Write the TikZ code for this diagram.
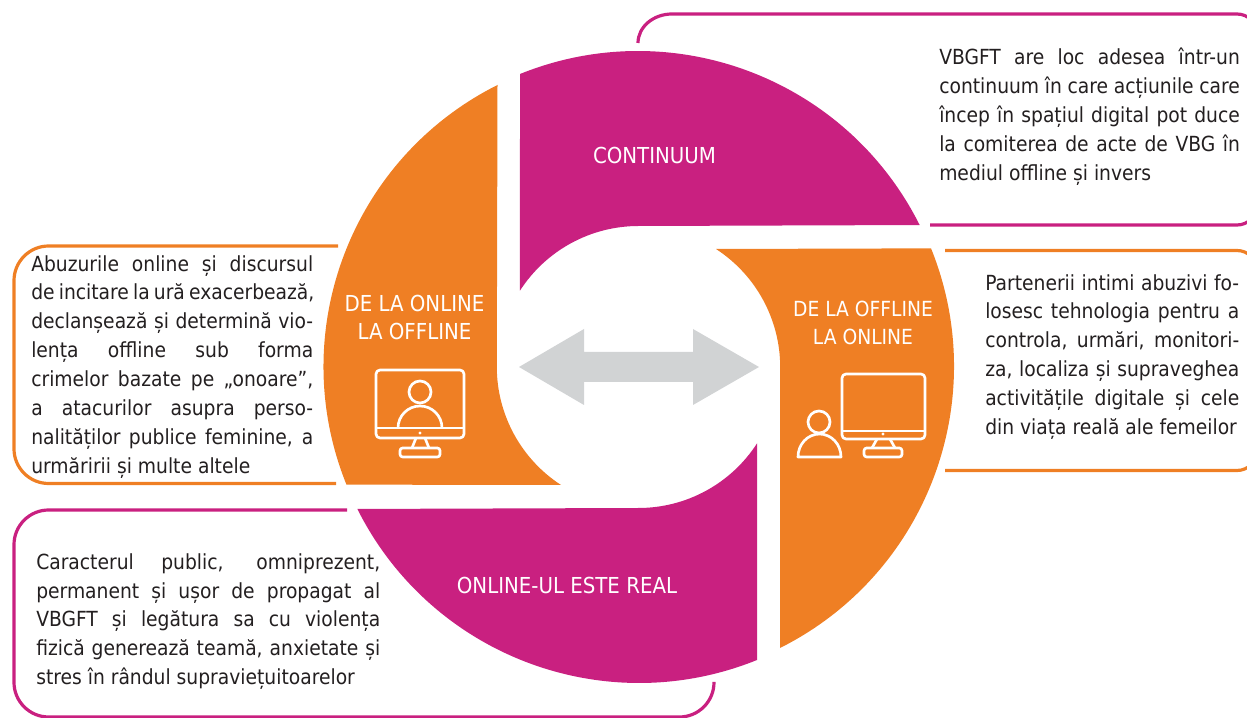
\documentclass[tikz,border=0pt]{standalone}
\usepackage{fontspec}
\setmainfont{DejaVu Sans Condensed}
\definecolor{magentaseg}{HTML}{C92080}
\definecolor{orangeseg}{HTML}{EF7F24}
\definecolor{arrowgrey}{HTML}{D1D3D4}
\definecolor{bodytext}{HTML}{231F20}
\hbadness=10000
\hfuzz=5pt

\begin{document}
\begin{tikzpicture}[x=0.75pt, y=0.75pt,
    segment/.style = {draw=none},
    seglabel/.style = {text=white, align=center, inner sep=0, font=\fontsize{16.5pt}{21pt}\selectfont},
    callout/.style = {line width=2.4pt, rounded corners=26pt},
    bodynode/.style = {text=bodytext, inner sep=0, anchor=north west, align=justify, font=\fontsize{15.6pt}{21.7pt}\selectfont},
    icon/.style = {draw=white, line width=2pt, line join=round}]
  \useasboundingbox (0, 0) rectangle (1247, 718);

  % Callouts.
  \draw [callout, magentaseg, sharp corners] (638, 675) arc [start angle=180, end angle=90, x radius=34, y radius=29]
        -- (1000, 704) [rounded corners=15pt] -- (1257, 704) -- (1257, 493) -- (930, 493);
  \draw [callout, orangeseg, rounded corners=15pt] (945, 467.5) -- (1257, 467.5) -- (1257, 247.5) -- (945, 247.5);
  \draw [callout, orangeseg] (338, 472) -- (14, 472) -- (14, 234.5) -- (336, 234.5);
  \draw [callout, magentaseg] (347, 208) -- (14, 208) -- (14, 1) -- (714, 1) -- (714, 36);

  % Ring.
  \fill [segment, magentaseg] (520, 644) arc [start angle=112, end angle=26.6, radius=315]
        -- (638.5, 492) arc [start angle=90, end angle=147.2, radius=141] -- cycle;
  \fill [segment, orangeseg] (497.5, 633) arc [start angle=116.6, end angle=202, radius=315]
        -- (561, 233) arc [start angle=237, end angle=180, radius=141] -- cycle;
  \fill [segment, magentaseg] (757, 58) arc [start angle=292, end angle=206.6, radius=315]
        -- (638.5, 210) arc [start angle=270, end angle=327.2, radius=141] -- cycle;
  \fill [segment, orangeseg] (780, 70) arc [start angle=296.6, end angle=382, radius=315]
        -- (716, 469) arc [start angle=57, end angle=0, radius=141] -- cycle;

  % Double arrow.
  \fill [arrowgrey] (519, 351) -- (584, 389) -- (584, 366) -- (693, 366) -- (693, 389) -- (759, 351)
        -- (693, 313) -- (693, 336) -- (584, 336) -- (584, 313) -- cycle;

  % Segment labels.
  \node at (654.5, 563) [seglabel, name=Continuum] {CONTINUUM};
  \node at (414.5, 401) [seglabel, name=OnlineOffline] {DE LA ONLINE\\LA OFFLINE};
  \node at (863, 395) [seglabel, font=\fontsize{15.6pt}{21pt}\selectfont, name=OfflineOnline] {DE LA OFFLINE\\LA ONLINE};
  \node at (567, 133) [seglabel, name=OnlineReal] {ONLINE-UL ESTE REAL};

  % Callout texts.
  \node at (939, 670) [bodynode, text width=225.5pt, name=ContinuumText]
    {VBGFT are loc adesea într-un\linebreak continuum în care acțiunile care\linebreak încep în spațiul digital pot duce\linebreak la comiterea de acte de VBG în\linebreak mediul offline și invers};
  \node at (985, 444) [bodynode, text width=190.5pt, name=OfflineOnlineText]
    {Partenerii intimi abuzivi fo-\linebreak losesc tehnologia pentru a\linebreak controla, urmări, monitori-\linebreak za, localiza și supraveghea\linebreak activitățile digitale și cele\linebreak din viața reală ale femeilor};
  \node at (31, 463) [bodynode, text width=211.5pt, name=OnlineOfflineText]
    {Abuzurile online și discursul\linebreak \makebox[\linewidth][s]{\spaceskip=.2em plus .2em de incitare la ură exacerbează,}\linebreak declanșează și determină vio-\linebreak lența offline sub forma\linebreak crimelor bazate pe „onoare”,\linebreak a atacurilor asupra perso-\linebreak nalităților publice feminine, a\linebreak urmăririi și multe altele};
  \node at (36, 165) [bodynode, text width=258pt, name=OnlineRealText]
    {Caracterul public, omniprezent,\linebreak permanent și ușor de propagat al\linebreak VBGFT și legătura sa cu violența\linebreak fizică generează teamă, anxietate și\linebreak stres în rândul supraviețuitoarelor};

  % Monitor with person on screen.
  \draw [icon, rounded corners=3pt] (376, 348) rectangle (464, 280);
  \draw [icon] (376, 290) -- (464, 290);
  \fill [white] (420, 285) circle [radius=1.7];
  \draw [icon] (416, 280) -- (412, 270);
  \draw [icon] (425, 280) -- (429, 270);
  \draw [icon, rounded corners=2pt] (400, 270) rectangle (440, 261);
  \draw [icon] (420, 326) circle [x radius=11, y radius=11];
  \draw [icon] (398, 290) arc [start angle=180, end angle=0, x radius=22, y radius=22];

  % Monitor with person beside it.
  \draw [icon, rounded corners=3pt] (842, 344) rectangle (925, 279);
  \draw [icon] (842, 287) -- (925, 287);
  \fill [white] (883, 284) circle [radius=1.7];
  \draw [icon] (877, 279) -- (872, 270);
  \draw [icon] (890, 279) -- (895, 270);
  \draw [icon, rounded corners=2pt] (864, 270) rectangle (902, 261);
  \draw [icon] (819, 296) circle [x radius=11, y radius=11];
  \draw [icon] (798, 261) arc [start angle=180, end angle=0, x radius=21.5, y radius=23] -- cycle;
\end{tikzpicture}
\end{document}
